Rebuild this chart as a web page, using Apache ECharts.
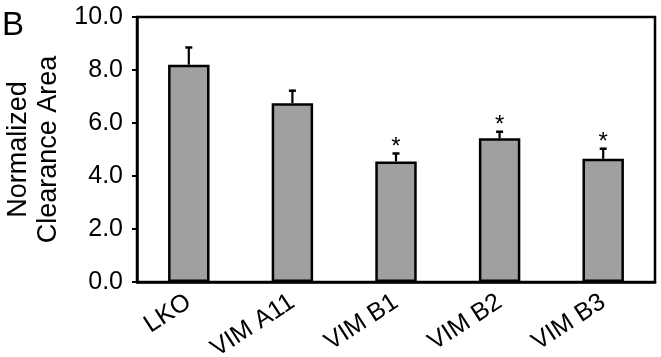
<!DOCTYPE html>
<html>
<head>
<meta charset="utf-8">
<script src="https://cdn.jsdelivr.net/npm/echarts@6/dist/echarts.min.js"></script>
<style>
  html, body { margin: 0; padding: 0; background: #fff; }
  #chart { width: 661px; height: 357px; }
</style>
</head>
<body>
<div id="chart"></div>
<script>
// Cell lines on the x axis
const categories = ['LKO', 'VIM A11', 'VIM B1', 'VIM B2', 'VIM B3'];
// Mean normalized clearance area per line
const means = [8.2, 6.75, 4.55, 5.42, 4.65];
// Upper error (SEM) above each mean
const errors = [0.65, 0.47, 0.3, 0.25, 0.38];
// Lines marked as significantly different
const significant = [false, false, true, true, true];
// Y axis ticks
const yTicks = [0, 2, 4, 6, 8, 10];

const FONT = '"Liberation Sans", Arial, Helvetica, sans-serif';

const chart = echarts.init(document.getElementById('chart'), null, { renderer: 'canvas' });

const errorData = categories.map((c, i) => [i, means[i], errors[i], significant[i] ? 1 : 0]);

chart.setOption({
  animation: false,
  backgroundColor: '#fff',
  grid: {
    left: 137, right: 6, top: 17, bottom: 75,
    containLabel: false, outerBoundsMode: 'none',
    show: true, borderColor: '#000', borderWidth: 2.5, backgroundColor: 'transparent'
  },
  graphic: [{
    type: 'text', left: 2, top: 9,
    style: { text: 'B', font: '33px ' + FONT, fill: '#000' }
  }],
  xAxis: {
    type: 'category',
    data: categories,
    axisLine: { lineStyle: { color: '#000', width: 2.5 } },
    axisTick: { show: false },
    axisLabel: {
      rotate: 33, margin: 18, color: '#000',
      fontFamily: FONT, fontSize: 25
    }
  },
  yAxis: {
    type: 'value',
    min: yTicks[0], max: yTicks[yTicks.length - 1], interval: 2,
    name: 'Normalized\nClearance Area',
    nameLocation: 'middle',
    nameGap: 69,
    nameTextStyle: { fontFamily: FONT, fontSize: 27, color: '#000', lineHeight: 30 },
    axisLine: { show: true, lineStyle: { color: '#000', width: 2.5 } },
    axisTick: { show: true, inside: false, length: 5, lineStyle: { color: '#000', width: 2 } },
    splitLine: { show: false },
    axisLabel: {
      margin: 14, color: '#000', fontFamily: FONT, fontSize: 25,
      formatter: v => v.toFixed(1)
    }
  },
  series: [
    {
      type: 'bar',
      data: means,
      barWidth: '40%',
      itemStyle: { color: '#a0a0a0', borderColor: '#000', borderWidth: 2.5 }
    },
    {
      // upper error bars with caps, plus a star over significant lines
      type: 'custom',
      data: errorData,
      z: 5,
      clip: false,
      renderItem: function (params, api) {
        const idx = api.value(0);
        const top = api.coord([idx, api.value(1)]);
        const hi = api.coord([idx, api.value(1) + api.value(2)]);
        const children = [
          { type: 'line', shape: { x1: top[0], y1: top[1], x2: hi[0], y2: hi[1] },
            style: { stroke: '#000', lineWidth: 2.2 } },
          { type: 'line', shape: { x1: hi[0] - 3.5, y1: hi[1], x2: hi[0] + 3.5, y2: hi[1] },
            style: { stroke: '#000', lineWidth: 2.5 } }
        ];
        if (api.value(3)) {
          children.push({
            type: 'text',
            style: {
              text: '*', x: hi[0], y: hi[1] - 6,
              font: '24px ' + FONT, fill: '#000',
              textAlign: 'center', textVerticalAlign: 'middle'
            }
          });
        }
        return { type: 'group', children: children };
      }
    }
  ]
});
</script>
</body>
</html>
